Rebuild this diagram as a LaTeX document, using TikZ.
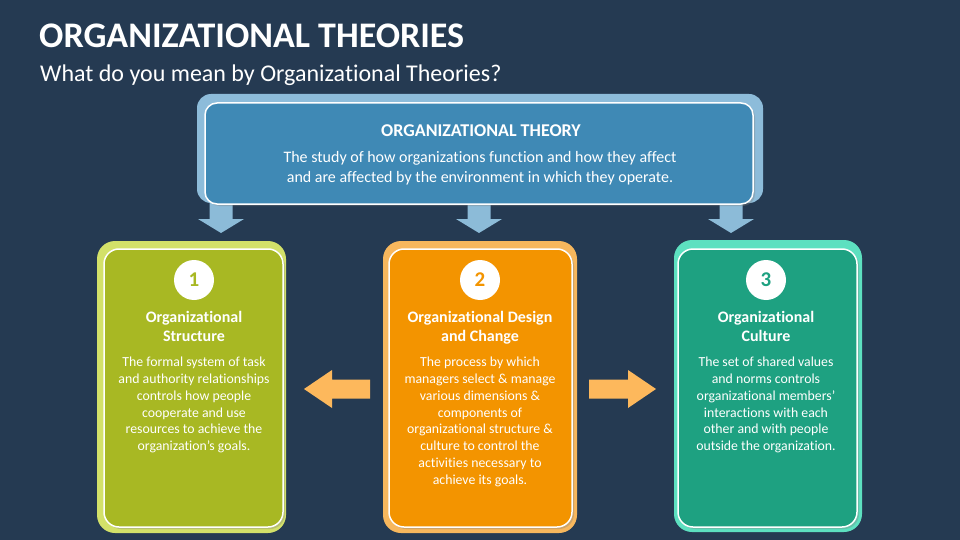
\documentclass[tikz,border=0pt]{standalone}
\usepackage{fontspec}
\setmainfont[Ligatures={TeX,NoCommon}]{Carlito}
\usetikzlibrary{shadows}
\definecolor{bg}{HTML}{253A52}
\definecolor{topouter}{HTML}{8DBCDA}
\definecolor{topinner}{HTML}{3F89B5}
\definecolor{downarrow}{HTML}{8CBBD8}
\definecolor{greenouter}{HTML}{D3E169}
\definecolor{greeninner}{HTML}{A8B823}
\definecolor{orangeouter}{HTML}{F7B75D}
\definecolor{orangeinner}{HTML}{F39400}
\definecolor{tealouter}{HTML}{5DE0C0}
\definecolor{tealinner}{HTML}{1EA181}
\definecolor{sidearrow}{HTML}{FDB85C}
\tikzset{
  frame/.style={rounded corners=18pt},
  panel/.style={draw=white, line width=1.5pt, rounded corners=15pt,
    drop shadow={opacity=0.35, shadow xshift=2pt, shadow yshift=-2pt}},
  numdisc/.style={circle, fill=white, minimum size=40pt, inner sep=0pt,
    font=\fontsize{21}{24}\selectfont\bfseries},
  headtxt/.style={anchor=north, inner sep=0pt, align=center, text=white,
    font=\fontsize{16}{19}\selectfont\bfseries},
  bodytxt/.style={anchor=north, inner sep=0pt, align=center, text=white,
    font=\fontsize{13.8}{16.8}\selectfont},
}
\begin{document}
\begin{tikzpicture}[x=1pt,y=-1pt]
\fill[bg] (0,0) rectangle (960,540);
\useasboundingbox (0,0) rectangle (960,540);

% title
\node[anchor=base west, inner sep=0pt, text=white, font=\fontsize{36}{40}\selectfont\bfseries] (title) at (39,48) {ORGANIZATIONAL THEORIES};
\node[anchor=base west, inner sep=0pt, text=white, font=\fontsize{24}{27}\selectfont] (subtitle) at (40,82) {What do you mean by Organizational Theories?};

% down arrows
\foreach \cx/\nm in {221/da1, 479/da2, 731/da3}{
  \coordinate (\nm) at (\cx,233);
  \fill[downarrow] (\cx-11.5,200) -- (\cx+11.5,200) -- (\cx+11.5,219) -- (\cx+23,219)
     -- (\nm) -- (\cx-23,219) -- (\cx-11.5,219) -- cycle;
}

% top box
\fill[topouter, rounded corners=14pt] (197,94) rectangle (763,203);
\filldraw[panel, fill=topinner, rounded corners=12pt] (205,103) rectangle (753,204);
\node[anchor=base, inner sep=0pt, text=white, font=\fontsize{18}{20}\selectfont\bfseries] (toptitle) at (481,137) {ORGANIZATIONAL THEORY};
\node[anchor=north, inner sep=0pt, align=center, text=white, font=\fontsize{16}{20}\selectfont] (topbody) at (480,151.5) {The study of how organizations function and how they affect\\and are affected by the environment in which they operate.};

% cards outer frames
\fill[greenouter, frame] (97,241) rectangle (286,533);
\fill[orangeouter, frame] (383,241) rectangle (577,533);
\fill[tealouter, frame] (674,240) rectangle (862,532);
% cards inner panels
\filldraw[panel, fill=greeninner] (104,249) rectangle (283,527);
\filldraw[panel, fill=orangeinner] (389,249) rectangle (572,527);
\filldraw[panel, fill=tealinner] (678,249) rectangle (857,527);

% numbers
\node[numdisc, text=greeninner] (n1) at (194,280) {1};
\node[numdisc, text=orangeinner] (n2) at (480,280) {2};
\node[numdisc, text=tealinner] (n3) at (766,280) {3};

% headings
\node[headtxt] (h1) at (194,311) {Organizational\\Structure};
\node[headtxt] (h2) at (480,311) {Organizational Design\\and Change};
\node[headtxt] (h3) at (766,311) {Organizational\\Culture};

% bodies
\node[bodytxt] (b1) at (194,357) {The formal system of task\\and authority relationships\\controls how people\\cooperate and use\\resources to achieve the\\organization's goals.};
\node[bodytxt] (b2) at (480,357) {The process by which\\managers select \& manage\\various dimensions \&\\components of\\organizational structure \&\\culture to control the\\activities necessary to\\achieve its goals.};
\node[bodytxt] (b3) at (766,357) {The set of shared values\\and norms controls\\organizational members’\\interactions with each\\other and with people\\outside the organization.};

% side arrows
\coordinate (la) at (304,389);
\coordinate (ra) at (656,389);
\fill[sidearrow] (370,379.5) -- (332,379.5) -- (332,370) -- (la) -- (332,408) -- (332,398.5) -- (370,398.5) -- cycle;
\fill[sidearrow] (589,379.5) -- (628,379.5) -- (628,370) -- (ra) -- (628,408) -- (628,398.5) -- (589,398.5) -- cycle;
\end{tikzpicture}
\end{document}
